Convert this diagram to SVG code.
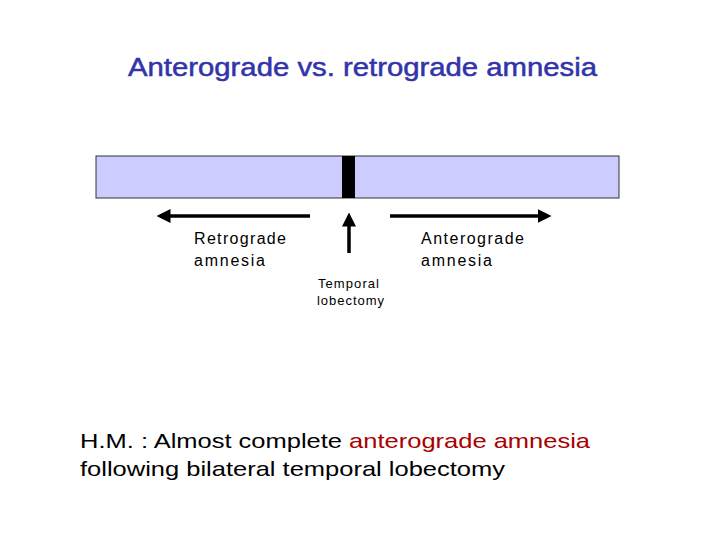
<svg xmlns="http://www.w3.org/2000/svg" width="720" height="540" viewBox="0 0 720 540">
<style>
text{font-family:"Liberation Sans",Arial,sans-serif}
.t{font-size:16px;fill:#000}
.ln{stroke:#000;stroke-width:3.5;fill:none}
</style>
<defs><marker id="ah" markerWidth="4" markerHeight="4" refX="3" refY="2" orient="auto"><path d="M0,0L4,2L0,4z" fill="#000"/></marker></defs>
<rect width="720" height="540" fill="#fff"/>
<text x="128" y="76" font-size="25" fill="#3333aa" stroke="#3333aa" stroke-width="0.5" textLength="469" lengthAdjust="spacingAndGlyphs">Anterograde vs. retrograde amnesia</text>
<g id="timeline"><rect x="96" y="156" width="523" height="42" fill="#ccccff" stroke="#333" stroke-width="1"/><rect x="342" y="156" width="13" height="42" fill="#000"/></g>
<g id="connectors">
<line class="ln" x1="310" y1="216" x2="160" y2="216" marker-end="url(#ah)"/>
<line class="ln" x1="390" y1="216" x2="548" y2="216" marker-end="url(#ah)"/>
<line class="ln" x1="349" y1="253" x2="349" y2="216" marker-end="url(#ah)"/>
</g>
<g id="retro"><text class="t" x="194" y="244" textLength="92">Retrograde</text><text class="t" x="194" y="266" textLength="71">amnesia</text></g>
<g id="antero"><text class="t" x="421" y="244" textLength="103">Anterograde</text><text class="t" x="421" y="266" textLength="71">amnesia</text></g>
<g id="lobectomy"><text x="318" y="288" font-size="13" textLength="61">Temporal</text><text x="317" y="305" font-size="13" textLength="67">lobectomy</text></g>
<g id="caption" font-size="21"><text x="80" y="448" textLength="510" lengthAdjust="spacingAndGlyphs">H.M. : Almost complete <tspan fill="#aa0000">anterograde amnesia</tspan></text><text x="80" y="476" textLength="425" lengthAdjust="spacingAndGlyphs">following bilateral temporal lobectomy</text></g>
</svg>
